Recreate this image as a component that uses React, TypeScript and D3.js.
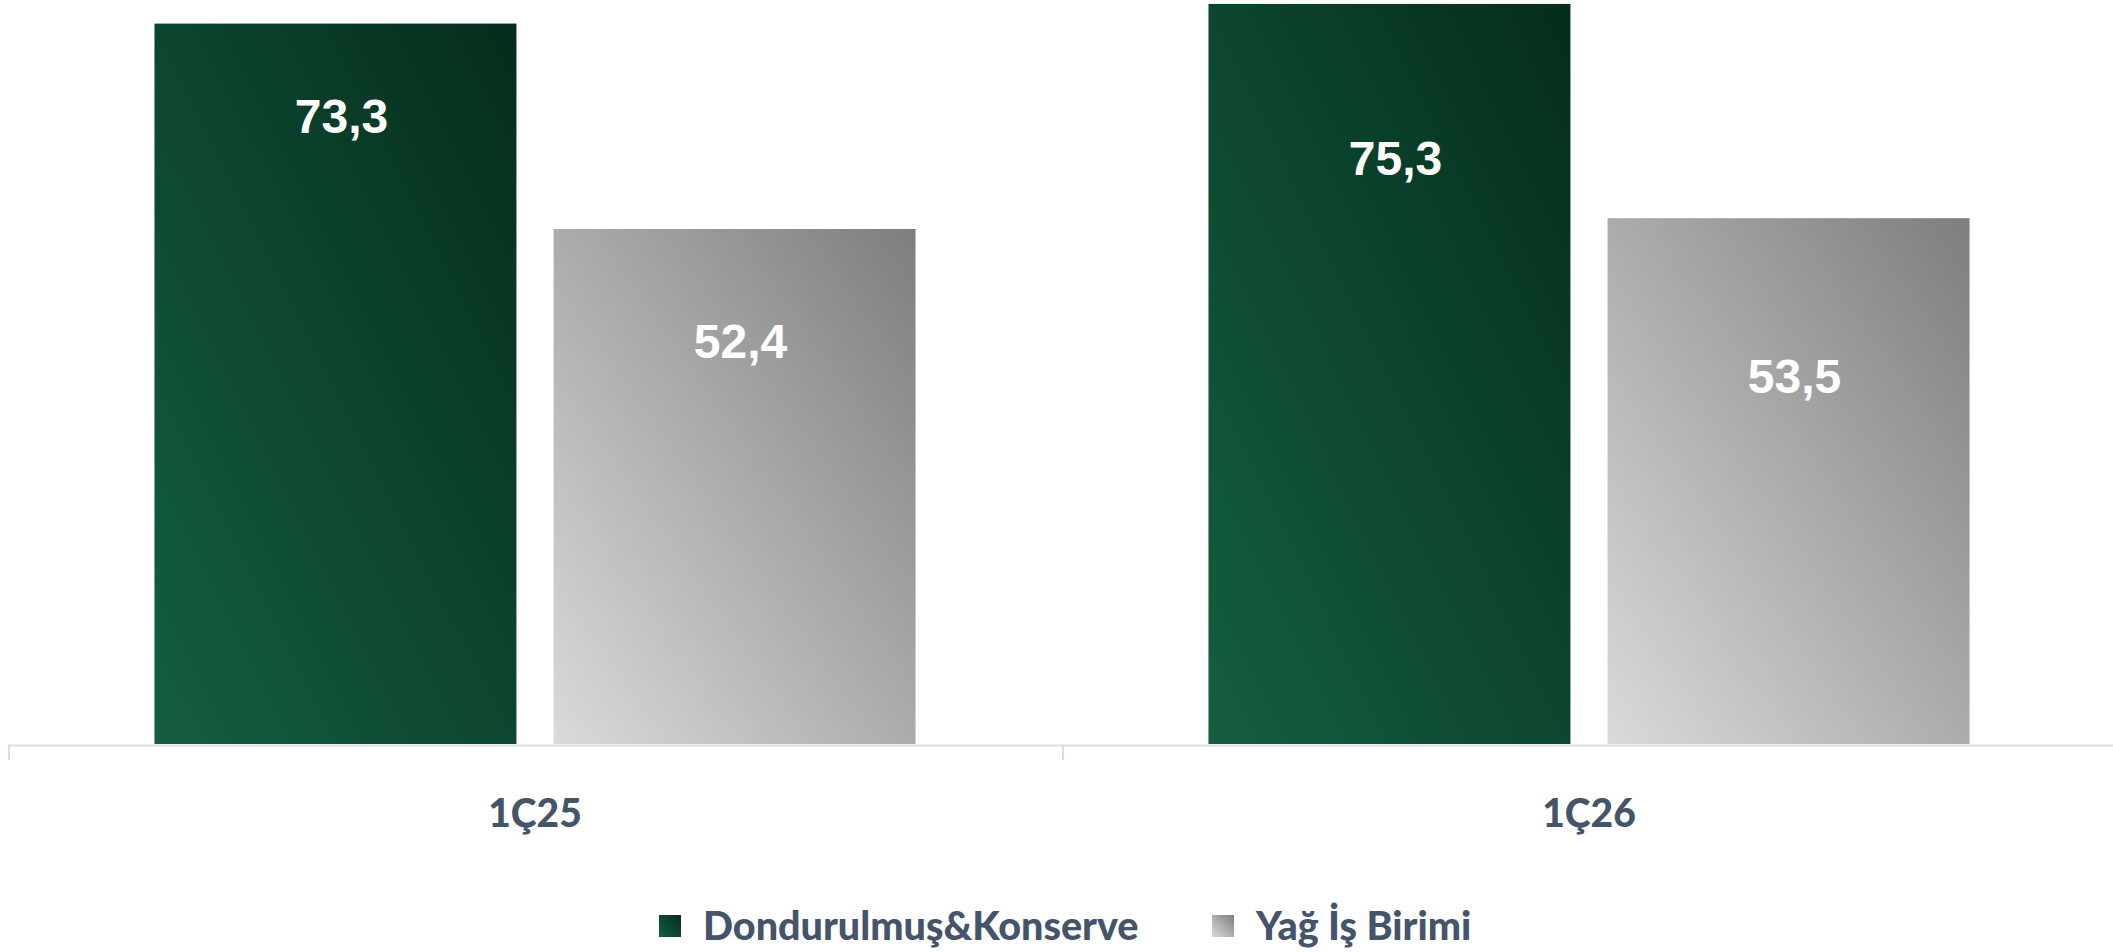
import { useMemo } from 'react'
import * as d3 from 'd3'

const categories = ['1Ç25', '1Ç26']
const seriesNames = ['Dondurulmuş&Konserve', 'Yağ İş Birimi']
const frozenValues = [73.3, 75.3]
const oilValues = [52.4, 53.5]
// how far below the bar top each value label sits (px), per category
const frozenLabelDy = [93, 154]
const oilLabelDy = [112, 158]

const W = 2113
const H = 952
const PLOT = { left: 8, right: 2116, top: 0, bottom: 744 }
const Y_MAX = 75.7

const TEXT_COLOR = '#44546A'
const AXIS_COLOR = '#D9DDE3'
const LABEL_FONT = "'Liberation Sans', Arial, sans-serif"
const CAT_FONT = "Lato, 'Open Sans', sans-serif"

const GRADS = [
  { id: 'grad-green', from: '#145F40', to: '#052D1C' },
  { id: 'grad-grey', from: '#DADADA', to: '#7E7E7E' },
]

export default function App() {
  const x0 = useMemo(
    () => d3.scaleBand<string>().domain(categories).range([PLOT.left, PLOT.right]).padding(0),
    []
  )
  const x1 = useMemo(
    () =>
      d3
        .scaleBand<string>()
        .domain(seriesNames)
        .range([0, x0.bandwidth()])
        .paddingInner(0.093)
        .paddingOuter(0.367),
    [x0]
  )
  const y = useMemo(() => d3.scaleLinear().domain([0, Y_MAX]).range([PLOT.bottom, PLOT.top]), [])

  const series = [
    { name: seriesNames[0], values: frozenValues, dy: frozenLabelDy, grad: GRADS[0].id },
    { name: seriesNames[1], values: oilValues, dy: oilLabelDy, grad: GRADS[1].id },
  ]

  const ticks = [...categories.map((c) => x0(c) ?? 0), PLOT.right]

  return (
    <div style={{ position: 'absolute', left: 0, top: 0 }}>
      <svg width={W} height={H} style={{ display: 'block', background: '#fff' }}>
        <defs>
          {GRADS.map((g) => (
            <linearGradient key={g.id} id={g.id} x1="0" y1="1" x2="1" y2="0">
              <stop offset="0%" stopColor={g.from} />
              <stop offset="100%" stopColor={g.to} />
            </linearGradient>
          ))}
        </defs>

        {/* bars */}
        {categories.map((cat, i) => (
          <g key={cat} transform={`translate(${x0(cat)},0)`}>
            {series.map((s) => {
              const bx = x1(s.name) ?? 0
              const top = y(s.values[i])
              return (
                <g key={s.name}>
                  <rect
                    x={bx}
                    y={top}
                    width={x1.bandwidth()}
                    height={y(0) - top}
                    fill={`url(#${s.grad})`}
                  />
                  <text
                    x={bx + x1.bandwidth() / 2 + 6}
                    y={top + s.dy[i]}
                    dy="0.35em"
                    textAnchor="middle"
                    fill="#fff"
                    fontFamily={LABEL_FONT}
                    fontWeight="bold"
                    fontSize={48}
                  >
                    {d3.format('.1f')(s.values[i]).replace('.', ',')}
                  </text>
                </g>
              )
            })}
          </g>
        ))}

        {/* category axis */}
        <line x1={PLOT.left} x2={W} y1={PLOT.bottom + 1.5} y2={PLOT.bottom + 1.5} stroke={AXIS_COLOR} strokeWidth={2} />
        {ticks.map((t, i) => (
          <line key={i} x1={t + 1} x2={t + 1} y1={PLOT.bottom + 1.5} y2={PLOT.bottom + 16} stroke={AXIS_COLOR} strokeWidth={2} />
        ))}
        {categories.map((cat) => (
          <text
            key={cat}
            x={(x0(cat) ?? 0) + x0.bandwidth() / 2}
            y={813}
            dy="0.35em"
            textAnchor="middle"
            fill={TEXT_COLOR}
            fontFamily={CAT_FONT}
            fontWeight={900}
            fontSize={39}
          >
            {cat}
          </text>
        ))}

        {/* legend */}
        {[
          { label: seriesNames[0], grad: GRADS[0].id, x: 659 },
          { label: seriesNames[1], grad: GRADS[1].id, x: 1212 },
        ].map((l) => (
          <g key={l.label} transform={`translate(${l.x},915)`}>
            <rect x={0} y={0} width={22} height={22} fill={`url(#${l.grad})`} />
            <text
              x={44}
              y={11}
              dy="0.35em"
              fill={TEXT_COLOR}
              fontFamily={CAT_FONT}
              fontWeight={900}
              fontSize={39.5}
            >
              {l.label}
            </text>
          </g>
        ))}
      </svg>
    </div>
  )
}
